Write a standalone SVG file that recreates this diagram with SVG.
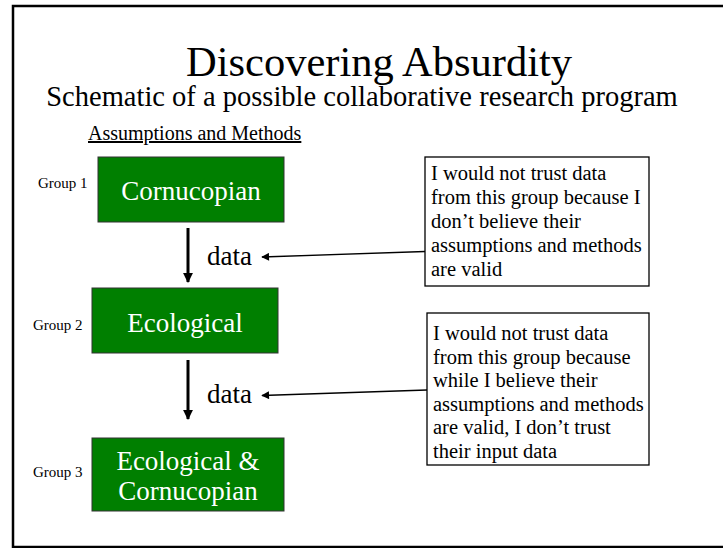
<svg xmlns="http://www.w3.org/2000/svg" width="723" height="548" viewBox="0 0 723 548">
  <style>
    text { font-family: "Liberation Serif", "Times New Roman", serif; fill: #000; }
    .title { font-size: 42.5px; text-anchor: middle; }
    .sub { font-size: 28.5px; text-anchor: middle; }
    .head { font-size: 20px; text-decoration: underline; }
    .grp { font-size: 15px; }
    .node rect { fill: #007F00; stroke: #333; stroke-width: 1; }
    .node text { fill: #fff; font-size: 27px; text-anchor: middle; }
    .note rect { fill: #fff; stroke: #000; stroke-width: 1.3; }
    .note text { font-size: 20.5px; }
    .lbl { font-size: 27px; }
    .flow { stroke: #000; stroke-width: 3; fill: none; }
    .ptr { stroke: #000; stroke-width: 1.3; fill: none; }
  </style>
  <defs>
    <marker id="bigHead" viewBox="0 0 10 10" refX="9" refY="5" markerWidth="3.3" markerHeight="3.3" markerUnits="strokeWidth" orient="auto">
      <path d="M0,0 L10,5 L0,10 Z" fill="#000"/>
    </marker>
    <marker id="smallHead" viewBox="0 0 10 10" refX="9" refY="5" markerWidth="8" markerHeight="6" markerUnits="strokeWidth" orient="auto">
      <path d="M0,0 L10,5 L0,10 Z" fill="#000"/>
    </marker>
  </defs>

  <rect width="723" height="548" fill="#fff"/>
  <!-- slide frame -->
  <rect x="13" y="6" width="722" height="541" fill="none" stroke="#000" stroke-width="2.5"/>

  <text class="title" x="379" y="76">Discovering Absurdity</text>
  <text class="sub" x="362" y="106">Schematic of a possible collaborative research program</text>
  <text class="head" x="88" y="140">Assumptions and Methods</text>

  <g id="group1">
    <text class="grp" x="38" y="188">Group 1</text>
    <g class="node"><rect x="98" y="157" width="186" height="65"/><text x="191" y="200">Cornucopian</text></g>
  </g>
  <g id="group2">
    <text class="grp" x="33" y="330">Group 2</text>
    <g class="node"><rect x="92" y="288" width="186" height="65"/><text x="185" y="332">Ecological</text></g>
  </g>
  <g id="group3">
    <text class="grp" x="33" y="477">Group 3</text>
    <g class="node"><rect x="92" y="438" width="192" height="73"/><text x="188" y="470">Ecological &amp;</text><text x="188" y="500">Cornucopian</text></g>
  </g>

  <g id="note1" class="note">
    <rect x="425" y="157" width="224" height="129"/>
    <text x="431" y="180">I would not trust data</text>
    <text x="431" y="204">from this group because I</text>
    <text x="431" y="228">don’t believe their</text>
    <text x="431" y="252">assumptions and methods</text>
    <text x="431" y="276">are valid</text>
  </g>
  <g id="note2" class="note">
    <rect x="427" y="313" width="222" height="152"/>
    <text x="433" y="340">I would not trust data</text>
    <text x="433" y="363.5">from this group because</text>
    <text x="433" y="387">while I believe their</text>
    <text x="433" y="410.5">assumptions and methods</text>
    <text x="433" y="434">are valid, I don’t trust</text>
    <text x="433" y="457.5">their input data</text>
  </g>

  <g id="connectors">
    <line class="flow" x1="188" y1="228" x2="188" y2="282" marker-end="url(#bigHead)"/>
    <text class="lbl" x="207" y="265">data</text>
    <line class="flow" x1="188" y1="360" x2="188" y2="419" marker-end="url(#bigHead)"/>
    <text class="lbl" x="207" y="403">data</text>
    <line class="ptr" x1="425" y1="251.5" x2="262" y2="257" marker-end="url(#smallHead)"/>
    <line class="ptr" x1="427" y1="390" x2="262" y2="395.5" marker-end="url(#smallHead)"/>
  </g>
</svg>
